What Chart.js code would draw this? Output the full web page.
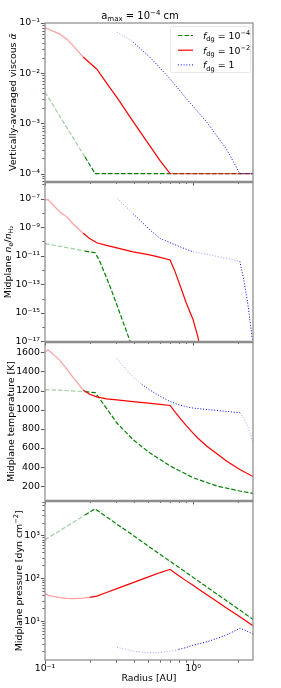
<!DOCTYPE html>
<html>
<head>
<meta charset="utf-8">
<script src="https://cdn.jsdelivr.net/npm/chart.js@4.4.1/dist/chart.umd.min.js"></script>
<style>
  html, body { margin: 0; padding: 0; background: #fff; }
  #wrap { position: relative; width: 281px; height: 688px; overflow: hidden; }
  .panel { position: absolute; left: 0; width: 281px; }
</style>
</head>
<body>
<div id="wrap">
  <div class="panel" style="top:0;height:192px"><canvas id="c1"></canvas></div>
  <div class="panel" style="top:172px;height:180px"><canvas id="c2"></canvas></div>
  <div class="panel" style="top:332px;height:179px"><canvas id="c3"></canvas></div>
  <div class="panel" style="top:491px;height:197px"><canvas id="c4"></canvas></div>
</div>
<script>
// radius grids [AU] for each dust-to-gas ratio
const greenR = [0.1, 0.12, 0.15, 0.186, 0.218, 0.235, 0.275, 0.306, 0.35, 0.393, 0.45, 0.51, 0.6, 0.7, 0.85, 1.0, 1.2, 1.45, 1.75, 2.07, 2.54];
const redR = [0.1, 0.105, 0.126, 0.141, 0.155, 0.181, 0.2, 0.224, 0.26, 0.306, 0.393, 0.5, 0.6, 0.7, 0.75, 0.816, 0.9, 1.0, 1.08, 1.24, 1.45, 1.69, 2.07, 2.54];
const blueR = [0.306, 0.35, 0.393, 0.45, 0.51, 0.6, 0.7, 0.8, 0.91, 1.0, 1.24, 1.45, 1.69, 2.07, 2.2, 2.35, 2.54];

// vertically-averaged viscous alpha
const greenAlpha = [4.2e-3, 1.75e-3, 6.0e-4, 2.15e-4, 1e-4, 1e-4, 1e-4, 1e-4, 1e-4, 1e-4, 1e-4, 1e-4, 1e-4, 1e-4, 1e-4, 1e-4, 1e-4, 1e-4, 1e-4, 1e-4, 1e-4];
const redAlpha = [0.079, 0.076, 0.060, 0.047, 0.035, 0.021, 0.0162, 0.012, 0.0064, 0.0033, 0.0011, 3.9e-4, 1.8e-4, 1e-4, 1e-4, 1e-4, 1e-4, 1e-4, 1e-4, 1e-4, 1e-4, 1e-4, 1e-4, 1e-4];
const blueAlpha = [0.066, 0.052, 0.042, 0.029, 0.021, 0.0126, 0.0076, 0.0048, 0.003, 0.0022, 0.00105, 5.6e-4, 3.0e-4, 1e-4, 1e-4, 1e-4, 1e-4];

// midplane electron abundance ne/nH2
const greenNe = [7.1e-11, 5.0e-11, 3.2e-11, 2.1e-11, 1.6e-11, 3.8e-12, 6.9e-14, 3.5e-15, 7.6e-17, 2.8e-18, null, null, null, null, null, null, null, null, null, null, null];
const redNe = [8.0e-8, 8.5e-8, 1.15e-8, 5.0e-9, 1.66e-9, 3.7e-10, 1.6e-10, 8.0e-11, 5.2e-11, 3.5e-11, 1.86e-11, 1.2e-11, 7.6e-12, 5.0e-12, 9.3e-13, 8.5e-14, 4.8e-15, 3.4e-16, 1.9e-17, 1e-20, null, null, null, null];
const blueNe = [1.05e-7, 2.8e-8, 8.9e-9, 2.3e-9, 6.6e-10, 1.6e-10, 8.1e-11, 4.5e-11, 2.7e-11, 1.86e-11, 1.26e-11, 8.9e-12, 6.5e-12, 4.0e-12, 2.1e-13, 3.5e-15, 6e-18];

// midplane temperature [K]
const greenT = [1210, 1205, 1197, 1188, 1178, 1110, 963, 861, 768, 688, 616, 550, 480, 412, 347, 291, 248, 204, 176, 152, 126];
const redT = [1600, 1625, 1515, 1420, 1336, 1206, 1162, 1134, 1113, 1103, 1085, 1068, 1056, 1044, 982, 911, 834, 756, 702, 619, 540, 463, 377, 302];
const blueT = [1535, 1425, 1344, 1265, 1206, 1140, 1085, 1052, 1030, 1017, 1002, 992, 982, 968, 907, 821, 655];

// midplane pressure [dyn cm^-2]
const greenP = [790, 1170, 1880, 2980, 4170, 3480, 2380, 1830, 1330, 1005, 723, 532, 360, 249, 156, 105, 67.6, 42.9, 27.2, 18.1, 11.0];
const redP = [44, 40, 35.5, 34, 33.5, 34.5, 36, 38.5, 46.5, 57.4, 79, 108, 136, 162, 134, 110, 87, 68.4, 57, 41.4, 28.8, 20.1, 12.6, 7.8];
const blueP = [2.44, 2.2, 2.0, 1.88, 1.83, 1.85, 1.98, 2.2, 2.45, 2.75, 3.3, 3.95, 4.8, 6.8, 6.3, 5.7, 5.0];

// tick labels
const xMajor = [0.1, 1];
const xMinor = [0.2, 0.3, 0.4, 0.5, 0.6, 0.7, 0.8, 0.9, 2];
const tempTicks = [200, 400, 600, 800, 1000, 1200, 1400, 1600];

// radius ranges drawn faded, per panel: [from, to, opacity]
const fades = {
  alpha: { green: [[0.1, 0.186, 0.38]], red: [[0.1, 0.181, 0.38], [0.69, 3, 0.6]], blue: [[0.3, 0.42, 0.38]] },
  ne: { green: [[0.1, 0.19, 0.38]], red: [[0.1, 0.181, 0.38]], blue: [[0.3, 0.42, 0.38], [1.0, 2.0, 0.38]] },
  temp: { green: [[0.1, 0.19, 0.38]], red: [[0.1, 0.181, 0.38]], blue: [[0.3, 0.45, 0.38], [2.1, 3, 0.38]] },
  pres: { green: [[0.1, 0.19, 0.38]], red: [[0.1, 0.21, 0.38]], blue: [[0.3, 0.8, 0.38]] }
};

const FONT = '"DejaVu Sans", sans-serif';
const FS = 9.4;
const LEFT = 45, RIGHT_PAD = 28;

const seriesStyle = {
  green: { rgb: '0,128,0', dash: [4.5, 2], order: 2, width: 1.2 },
  red: { rgb: '255,0,0', dash: [], order: 1, width: 1.2 },
  blue: { rgb: '0,0,255', dash: [1, 1.8], order: 0, width: 1.0 }
};

const supMap = { '0': '⁰', '1': '¹', '2': '²', '3': '³', '4': '⁴', '5': '⁵', '6': '⁶', '7': '⁷', '8': '⁸', '9': '⁹', '-': '⁻' };
function powLabel(e) {
  return '10' + String(e).split('').map(c => supMap[c]).join('');
}

function fadeAt(list, x) {
  const hit = list.find(([a, b]) => x >= a && x <= b);
  return hit ? hit[2] : 1;
}

// split one series into runs of equal opacity, one dataset per run
function makeSets(name, r, v, fadeList) {
  const st = seriesStyle[name];
  const runs = [];
  let cur = null;
  for (let i = 1; i < r.length; i++) {
    const op = fadeAt(fadeList, Math.sqrt(r[i - 1] * r[i]));
    if (!cur || cur.op !== op) {
      cur = { op: op, data: [{ x: r[i - 1], y: v[i - 1] }] };
      runs.push(cur);
    }
    cur.data.push({ x: r[i], y: v[i] });
  }
  return runs.map(run => ({
    data: run.data,
    borderColor: 'rgba(' + st.rgb + ',' + run.op + ')',
    borderWidth: st.width,
    borderDash: st.dash,
    pointRadius: 0,
    tension: 0,
    order: st.order,
    spanGaps: false
  }));
}

// text with italic / sub / superscript parts
function richRun(ctx, parts, size, draw, x, y) {
  let cx = x;
  for (const [t, k] of parts) {
    const small = k === 'sub' || k === 'sup';
    const s = small ? size * 0.7 : size;
    ctx.font = (k === 'i' ? 'italic ' : '') + s + 'px ' + FONT;
    const dy = k === 'sub' ? size * 0.25 : (k === 'sup' ? -size * 0.4 : 0);
    if (draw) ctx.fillText(t, cx, y + dy);
    cx += ctx.measureText(t).width;
  }
  return cx - x;
}
function drawRich(ctx, parts, x, y, size, align) {
  ctx.textBaseline = 'alphabetic';
  ctx.textAlign = 'left';
  ctx.fillStyle = '#000';
  const w = richRun(ctx, parts, size, false, 0, 0);
  const x0 = align === 'center' ? x - w / 2 : (align === 'right' ? x - w : x);
  richRun(ctx, parts, size, true, x0, y);
}

function logTicks(lo, hi) {
  const out = [];
  for (let e = lo; e <= hi; e++) {
    for (let m = 1; m < 10; m++) out.push(m * Math.pow(10, e));
  }
  return out;
}

const legendItems = [
  ['green', [['f', 'i'], ['dg', 'sub'], [' = 10', ''], ['−4', 'sup']]],
  ['red', [['f', 'i'], ['dg', 'sub'], [' = 10', ''], ['−2', 'sup']]],
  ['blue', [['f', 'i'], ['dg', 'sub'], [' = 1', '']]]
];

const decor = {
  id: 'decor',
  afterDatasetsDraw(chart, args, o) {
    const { ctx, chartArea: a, scales } = chart;
    ctx.save();
    ctx.setLineDash([]);
    ctx.strokeStyle = '#8c8c8c';
    ctx.lineWidth = 1.25;
    ctx.strokeRect(a.left, a.top, a.right - a.left, a.bottom - a.top);

    ctx.strokeStyle = '#333';
    ctx.lineWidth = 0.8;
    ctx.beginPath();
    xMajor.concat(xMinor).forEach(v => {
      const px = Math.round(scales.x.getPixelForValue(v)) + 0.5;
      const len = xMajor.includes(v) ? 3.5 : 2;
      ctx.moveTo(px, a.bottom + 0.6);
      ctx.lineTo(px, a.bottom + 0.6 + len);
    });
    o.yTicks.forEach(t => {
      if (t.v < scales.y.min || t.v > scales.y.max) return;
      const py = Math.round(scales.y.getPixelForValue(t.v)) + 0.5;
      const len = t.major ? 3.5 : 2;
      ctx.moveTo(a.left - 0.6, py);
      ctx.lineTo(a.left - 0.6 - len, py);
    });
    ctx.stroke();

    // y axis title
    ctx.save();
    ctx.translate(o.titleX, (a.top + a.bottom) / 2);
    ctx.rotate(-Math.PI / 2);
    drawRich(ctx, o.yTitle, 0, 0, FS, 'center');
    ctx.restore();

    if (o.top) {
      drawRich(ctx, [['a', ''], ['max', 'sub'], [' = 10', ''], ['−4', 'sup'], [' cm', '']], 140, 18.5, 10, 'center');
      // legend
      ctx.fillStyle = 'rgba(255,255,255,0.85)';
      ctx.strokeStyle = '#e2e2e2';
      ctx.lineWidth = 0.8;
      ctx.beginPath();
      ctx.roundRect(170.5, 26.5, 80, 46, 2);
      ctx.fill();
      ctx.stroke();
      legendItems.forEach(([name, parts], i) => {
        const st = seriesStyle[name];
        const y = 35.5 + i * 14.7;
        ctx.strokeStyle = 'rgb(' + st.rgb + ')';
        ctx.lineWidth = st.width;
        ctx.setLineDash(st.dash);
        ctx.beginPath();
        ctx.moveTo(178, y);
        ctx.lineTo(193, y);
        ctx.stroke();
        ctx.setLineDash([]);
        drawRich(ctx, parts, 203, y + 3.5, FS, 'left');
      });
    }
    if (o.bottom) {
      ctx.fillStyle = '#000';
      ctx.font = FS + 'px ' + FONT;
      ctx.textAlign = 'center';
      ctx.textBaseline = 'alphabetic';
      ctx.fillText('Radius [AU]', 149, 681 - 491);
    }
    ctx.restore();
  }
};

function makePanel(id, cfg) {
  const yTickVals = cfg.yTicks.map(t => t.v);
  new Chart(document.getElementById(id), {
    type: 'line',
    data: { datasets: cfg.sets },
    options: {
      responsive: true,
      maintainAspectRatio: false,
      animation: false,
      devicePixelRatio: 1,
      layout: { padding: { top: cfg.padTop, left: 0, right: RIGHT_PAD, bottom: 0 } },
      plugins: {
        legend: { display: false },
        tooltip: { enabled: false },
        decor: { yTicks: cfg.yTicks, yTitle: cfg.yTitle, titleX: cfg.titleX, top: cfg.top, bottom: cfg.bottom }
      },
      scales: {
        x: {
          type: 'logarithmic',
          min: 0.1,
          max: 2.54,
          grid: { display: false, drawTicks: false },
          border: { display: false },
          afterBuildTicks: s => { s.ticks = xMajor.concat(xMinor).sort((p, q) => p - q).map(v => ({ value: v })); },
          afterFit: s => { s.height = cfg.xh; },
          ticks: {
            display: cfg.bottom,
            autoSkip: false,
            maxRotation: 0,
            padding: 3,
            color: '#000',
            font: { family: FONT, size: FS },
            callback: v => v === 0.1 ? powLabel(-1) : (v === 1 ? powLabel(0) : null)
          }
        },
        y: {
          type: cfg.yType,
          min: cfg.yMin,
          max: cfg.yMax,
          grid: { display: false, drawTicks: false },
          border: { display: false },
          afterBuildTicks: s => { s.ticks = yTickVals.filter(v => v >= cfg.yMin && v <= cfg.yMax).map(v => ({ value: v })); },
          afterFit: s => { s.width = LEFT; },
          ticks: {
            autoSkip: false,
            padding: 5,
            color: '#000',
            font: { family: FONT, size: FS },
            callback: v => {
              const t = cfg.yTicks.find(k => k.v === v);
              return t && t.label ? t.label : null;
            }
          }
        }
      }
    },
    plugins: [decor]
  });
}

function decadeTicks(lo, hi, labelEvery, offset) {
  const out = [];
  logTicks(lo, hi).forEach(v => {
    const e = Math.round(Math.log10(v));
    const isDecade = Math.abs(v - Math.pow(10, e)) < 1e-6 * v;
    const labelled = isDecade && ((e - offset) % labelEvery === 0);
    if (labelEvery > 1 && !isDecade) return;
    out.push({ v: v, major: labelled, label: labelled ? powLabel(e) : null });
  });
  return out;
}

makePanel('c1', {
  padTop: 23, xh: 10, top: true, bottom: false, titleX: 15.5,
  yType: 'logarithmic', yMin: 7.2e-5, yMax: 0.1,
  yTicks: decadeTicks(-5, -1, 1, 0),
  yTitle: [['Vertically-averaged viscous ', ''], ['ᾱ', 'i']],
  sets: [].concat(
    makeSets('green', greenR, greenAlpha, fades.alpha.green),
    makeSets('red', redR, redAlpha, fades.alpha.red),
    makeSets('blue', blueR, blueAlpha, fades.alpha.blue)
  )
});

makePanel('c2', {
  padTop: 10, xh: 10, top: false, bottom: false, titleX: 11,
  yType: 'logarithmic', yMin: 1e-17, yMax: 1.3e-6,
  yTicks: decadeTicks(-17, -6, 2, -17),
  yTitle: [['Midplane ', ''], ['n', 'i'], ['e', 'sub'], ['/', ''], ['n', 'i'], ['H₂', 'sub']],
  sets: [].concat(
    makeSets('green', greenR, greenNe, fades.ne.green),
    makeSets('red', redR, redNe, fades.ne.red),
    makeSets('blue', blueR, blueNe, fades.ne.blue)
  )
});

makePanel('c3', {
  padTop: 10, xh: 10, top: false, bottom: false, titleX: 14,
  yType: 'linear', yMin: 54, yMax: 1700,
  yTicks: tempTicks.map(v => ({ v: v, major: true, label: String(v) })),
  yTitle: [['Midplane temperature [K]', '']],
  sets: [].concat(
    makeSets('green', greenR, greenT, fades.temp.green),
    makeSets('red', redR, redT, fades.temp.red),
    makeSets('blue', blueR, blueT, fades.temp.blue)
  )
});

makePanel('c4', {
  padTop: 10, xh: 28, top: false, bottom: true, titleX: 22,
  yType: 'logarithmic', yMin: 1.24, yMax: 6140,
  yTicks: decadeTicks(0, 3, 1, 0),
  yTitle: [['Midplane pressure [dyn cm', ''], ['−2', 'sup'], [']', '']],
  sets: [].concat(
    makeSets('green', greenR, greenP, fades.pres.green),
    makeSets('red', redR, redP, fades.pres.red),
    makeSets('blue', blueR, blueP, fades.pres.blue)
  )
});
</script>
</body>
</html>
